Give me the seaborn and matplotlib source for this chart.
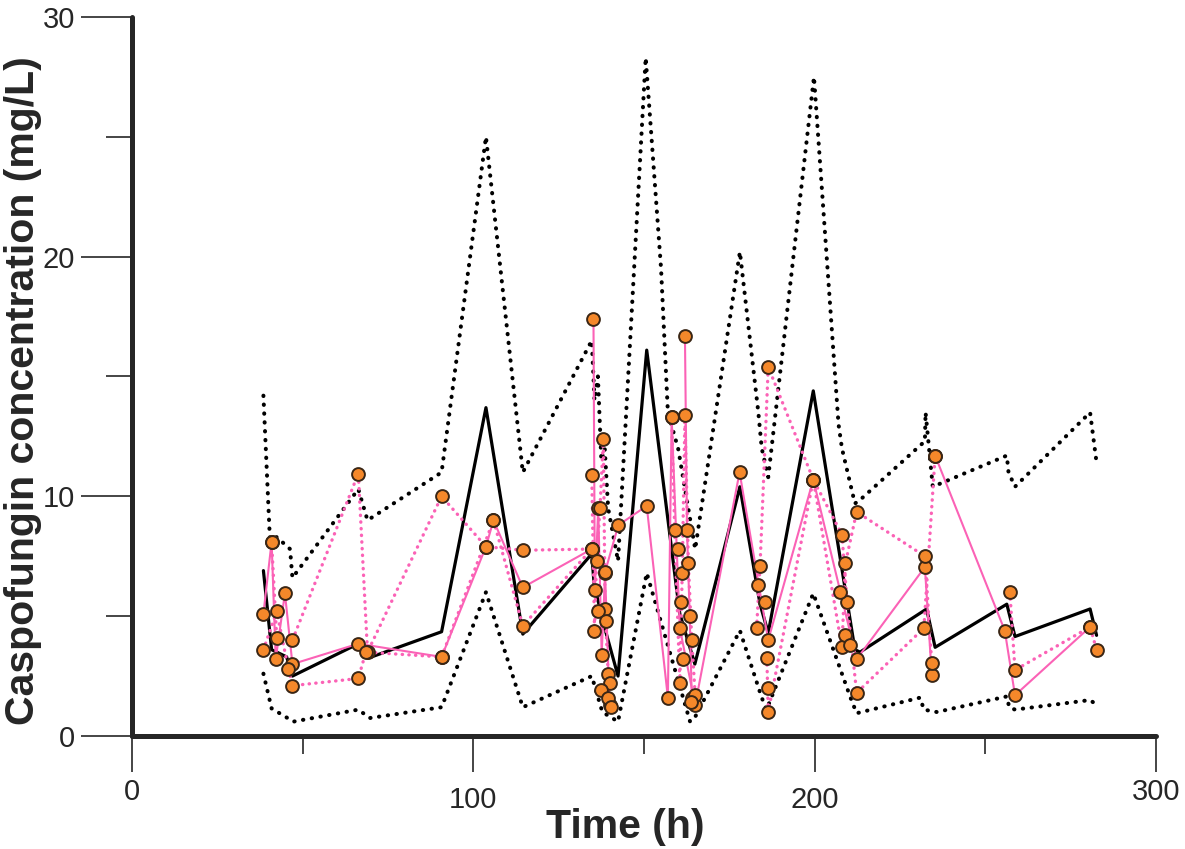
import numpy as np
import pandas as pd
import seaborn as sns
import matplotlib
matplotlib.use("Agg")
import matplotlib.pyplot as plt

# model prediction: median and 5th / 95th percentiles (black)
med_t = [38.5, 40.9, 42.4, 45.3, 47.0, 66.3, 69.2, 90.7, 103.7, 114.5, 134.7, 135.4, 138.7, 142.4,
         150.8, 159.5, 160.5, 164.9, 178.1, 184.0, 186.4, 199.6, 211.8, 213.3, 232.8, 235.3,
         256.3, 258.7, 280.7, 282.6]
med_c = [6.9, 3.6, 3.5, 3.3, 2.5, 3.85, 3.25, 4.35, 13.7, 4.25, 7.6, 6.3, 4.4, 2.5,
         16.1, 6.2, 5.1, 3.0, 10.4, 5.5, 4.3, 14.4, 3.6, 3.5, 5.3, 3.7,
         5.5, 4.15, 5.3, 4.2]

hi_t = [38.5, 40.4, 42.4, 46.3, 47.0, 66.3, 69.0, 90.7, 103.7, 114.5, 134.7, 135.5, 136.5, 137.5,
        138.5, 139.5, 142.4, 150.5, 155.0, 157.0, 160.0, 165.0, 178.1, 183.5, 184.5, 186.4,
        199.8, 207.0, 208.0, 211.8, 213.3, 232.3, 232.5, 234.6, 256.3, 256.8, 258.7, 280.7, 282.6]
hi_c = [14.2, 8.2, 8.3, 7.8, 6.6, 10.3, 9.0, 11.0, 25.0, 11.0, 16.5, 14.0, 15.0, 11.5,
        12.0, 9.5, 7.3, 28.3, 19.5, 13.5, 12.0, 7.8, 20.2, 13.5, 12.0, 10.8,
        27.5, 13.0, 12.0, 9.7, 9.85, 12.3, 13.5, 10.4, 11.7, 11.0, 10.4, 13.5, 11.4]

lo_t = [38.5, 40.9, 47.3, 66.3, 69.7, 90.7, 103.7, 114.5, 134.7, 137.8, 142.4, 150.8, 163.5,
        165.0, 178.1, 184.5, 185.9, 199.6, 210.5, 212.3, 230.9, 232.0, 235.8, 256.3, 257.0,
        258.7, 280.7, 282.6]
lo_c = [2.6, 1.15, 0.6, 1.1, 0.75, 1.2, 6.0, 1.2, 2.5, 1.0, 0.6, 6.8, 0.6,
        0.8, 4.4, 1.6, 1.1, 5.95, 1.6, 0.95, 1.6, 1.1, 1.0, 1.65, 1.2,
        1.1, 1.5, 1.3]

# observed concentrations, joined per patient (pink solid)
sol1_t = [38.5, 40.9, 42.1, 44.8, 47.0, 66.3, 90.7, 103.7, 105.9, 114.5, 134.7]
sol1_c = [5.1, 8.1, 3.2, 5.95, 3.0, 3.85, 3.3, 7.9, 9.0, 6.2, 7.8]
sol2_t = [135.2, 135.6, 136.6, 137.6, 138.6, 139.9]
sol2_c = [17.4, 6.1, 9.5, 3.4, 6.8, 1.3]
sol3_t = [138.6, 142.5, 150.8, 157.0, 158.1, 160.5, 165.0, 178.0, 186.4, 199.6, 212.3, 232.3, 234.3]
sol3_c = [6.85, 8.8, 9.6, 1.6, 13.3, 4.5, 1.3, 11.0, 4.0, 10.7, 3.2, 7.05, 2.55]
sol4_t = [162.0, 162.6, 163.4, 164.0]
sol4_c = [16.7, 8.6, 5.0, 1.6]
sol5_t = [235.3, 255.7, 258.7, 280.7]
sol5_c = [11.7, 4.4, 1.7, 4.55]

# observed concentrations, joined per patient (pink dotted)
dot1_t = [40.9, 42.4, 47.0, 66.3, 69.0, 90.7, 103.7, 114.5, 134.7]
dot1_c = [8.1, 4.07, 4.0, 10.95, 3.5, 10.0, 7.9, 7.75, 7.8]
dot2_t = [38.5, 42.4, 45.8, 47.0, 66.3, 68.5, 90.7, 105.9, 114.5, 134.7]
dot2_c = [3.6, 5.2, 2.8, 2.1, 2.4, 3.5, 3.3, 9.0, 4.6, 7.8]
dot3_t = [134.7, 135.5, 136.1, 137.1, 138.1, 138.6, 139.5, 140.0]
dot3_c = [10.9, 4.4, 7.3, 9.5, 12.4, 5.3, 2.6, 2.2]
dot4_t = [158.1, 159.0, 160.5, 161.2, 162.0, 163.0, 164.0, 165.0]
dot4_c = [13.3, 8.6, 2.2, 6.8, 13.4, 7.2, 4.0, 1.7]
dot5_t = [183.0, 184.0, 186.4, 199.6, 208.0, 209.0, 212.3, 232.3, 234.3]
dot5_c = [4.5, 7.1, 15.4, 10.7, 3.7, 7.2, 9.35, 7.5, 3.05]
dot6_t = [186.0, 186.4, 199.6, 208.0, 209.5, 212.3, 232.0, 235.3]
dot6_c = [3.25, 1.0, 10.7, 8.4, 5.6, 1.8, 4.5, 11.7]
dot7_t = [257.2, 258.7, 280.7, 282.6]
dot7_c = [6.0, 2.75, 4.55, 3.6]

# extra observations inside the dense clusters
ext_t = [136.6, 137.5, 138.9, 139.6, 140.3, 160.0, 160.8, 161.5, 163.8, 183.5, 185.5, 186.4, 207.5, 209.0, 210.5]
ext_c = [5.2, 1.9, 4.8, 1.6, 1.2, 7.8, 5.6, 3.2, 1.4, 6.3, 5.6, 2.0, 6.0, 4.2, 3.8]

sns.set_style("ticks")
plt.rcParams["font.family"] = ["Liberation Sans", "DejaVu Sans"]

fig = plt.figure(figsize=(11.85, 8.49), dpi=100)
ax = fig.add_axes([0.1114, 0.1331, 0.8641, 0.8469])

dotted = (0, (0.1, 2.1))
for t, c in [(hi_t, hi_c), (lo_t, lo_c)]:
    sns.lineplot(x=t, y=c, sort=False, estimator=None, color="black", lw=2.9,
                 linestyle=dotted, dash_capstyle="round", ax=ax, zorder=2)
sns.lineplot(x=med_t, y=med_c, sort=False, estimator=None, color="black", lw=2.3, ax=ax, zorder=2)

pink = "#fb62b6"
for t, c in [(dot1_t, dot1_c), (dot2_t, dot2_c), (dot3_t, dot3_c), (dot4_t, dot4_c),
             (dot5_t, dot5_c), (dot6_t, dot6_c), (dot7_t, dot7_c)]:
    sns.lineplot(x=t, y=c, sort=False, estimator=None, color=pink, lw=2.4,
                 linestyle=(0, (0.1, 1.9)), dash_capstyle="round", ax=ax, zorder=3)
for t, c in [(sol1_t, sol1_c), (sol2_t, sol2_c), (sol3_t, sol3_c), (sol4_t, sol4_c), (sol5_t, sol5_c)]:
    sns.lineplot(x=t, y=c, sort=False, estimator=None, color=pink, lw=1.5, ax=ax, zorder=3)

obs_t = (sol1_t + sol2_t + sol3_t + sol4_t + sol5_t + dot1_t + dot2_t + dot3_t + dot4_t
         + dot5_t + dot6_t + dot7_t + ext_t)
obs_c = (sol1_c + sol2_c + sol3_c + sol4_c + sol5_c + dot1_c + dot2_c + dot3_c + dot4_c
         + dot5_c + dot6_c + dot7_c + ext_c)
sns.scatterplot(x=obs_t, y=obs_c, s=85, color="#f5882a", edgecolor="#3a2615",
                linewidth=1.4, ax=ax, zorder=5)

ax.set_xlim(0, 300)
ax.set_ylim(0, 30)
ax.set_xticks([0, 100, 200, 300])
ax.set_xticks([50, 150, 250], minor=True)
ax.set_yticks([0, 10, 20, 30])
ax.set_yticks([5, 15, 25], minor=True)
sns.despine(ax=ax)
for s in ["left", "bottom"]:
    ax.spines[s].set_linewidth(3.6)
    ax.spines[s].set_capstyle("round")
ax.tick_params(axis="y", which="major", length=37, width=1.2, pad=4, labelsize=21)
ax.tick_params(axis="y", which="minor", length=19, width=1.2)
ax.tick_params(axis="x", which="major", length=26, width=1.2, pad=4, labelsize=21)
ax.tick_params(axis="x", which="minor", length=13, width=1.2)
xt = ax.xaxis.get_major_ticks()
xt[1].set_pad(10)
xt[2].set_pad(10)

ax.set_xlabel("Time (h)", fontsize=29.5, fontweight="bold")
ax.set_ylabel("Caspofungin concentration (mg/L)", fontsize=29.5, fontweight="bold")
# xlabel is top-anchored, ylabel is anchored on its right side
ax.xaxis.set_label_coords(0.482, -0.1)
ax.yaxis.set_label_coords(-0.088, 0.48)

fig.savefig("out.png", dpi=100)
